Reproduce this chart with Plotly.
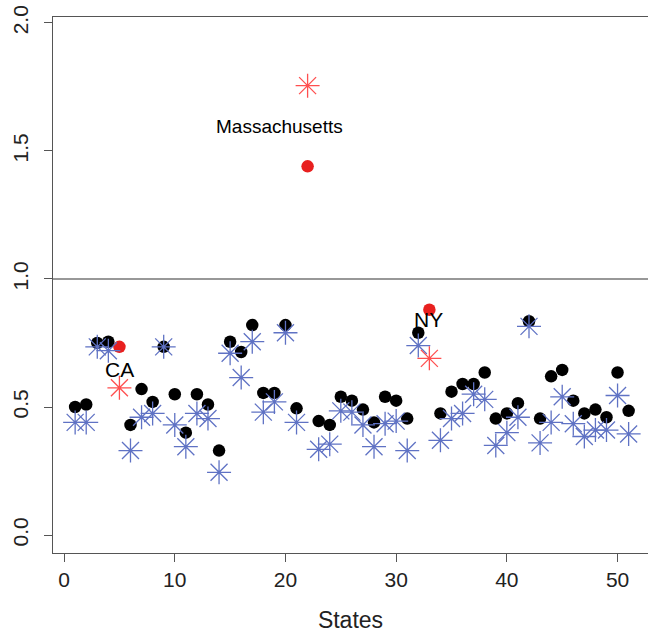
import plotly.graph_objects as go

states = list(range(1, 52))
dots = [0.50, 0.51, 0.75, 0.755, 0.735, 0.43, 0.57, 0.52, 0.735, 0.55,
        0.40, 0.55, 0.51, 0.33, 0.755, 0.715, 0.82, 0.555, 0.555, 0.82,
        0.495, 1.44, 0.445, 0.43, 0.54, 0.525, 0.49, 0.44, 0.54, 0.525,
        0.455, 0.79, 0.88, 0.475, 0.56, 0.59, 0.59, 0.635, 0.455, 0.475,
        0.515, 0.835, 0.455, 0.62, 0.645, 0.525, 0.475, 0.49, 0.46, 0.635,
        0.485]
stars = [0.44, 0.44, 0.735, 0.72, 0.575, 0.33, 0.46, 0.475, 0.735, 0.43,
         0.345, 0.475, 0.455, 0.245, 0.71, 0.615, 0.755, 0.48, 0.52, 0.79,
         0.44, 1.755, 0.335, 0.355, 0.485, 0.48, 0.43, 0.345, 0.435, 0.445,
         0.33, 0.74, 0.69, 0.37, 0.455, 0.475, 0.55, 0.53, 0.35, 0.40,
         0.46, 0.815, 0.36, 0.44, 0.54, 0.435, 0.385, 0.41, 0.41, 0.545,
         0.395]
highlight = {5: "CA", 22: "Massachusetts", 33: "NY"}
label_pos = {"CA": (5.0, 0.645), "Massachusetts": (19.5, 1.597), "NY": (32.9, 0.84)}
label_size = {"CA": 21, "Massachusetts": 19, "NY": 21}
x_ticks = [0, 10, 20, 30, 40, 50]
y_ticks = [0.0, 0.5, 1.0, 1.5, 2.0]

dot_colors = ["#e8201f" if s in highlight else "black" for s in states]
star_colors = ["#ff4f4f" if s in highlight else "#5f72c4" for s in states]

fig = go.Figure()
fig.add_trace(go.Scatter(
    x=states, y=dots, mode="markers",
    marker=dict(symbol="circle", size=12.5, color=dot_colors, line=dict(width=0)),
    showlegend=False))
fig.add_trace(go.Scatter(
    x=states, y=stars, mode="markers",
    marker=dict(symbol="asterisk-open", size=20, color=star_colors,
                line=dict(width=1.3, color=star_colors)),
    showlegend=False))

for name, (lx, ly) in label_pos.items():
    fig.add_annotation(x=lx, y=ly, text=name, showarrow=False,
                       font=dict(family="Liberation Sans, Arial", size=label_size[name],
                                 color="black"))

fig.add_hline(y=1.0, line=dict(color="#333333", width=1.2))

fig.update_layout(
    width=648, height=633,
    margin=dict(l=53, r=0, t=17, b=80),
    paper_bgcolor="white", plot_bgcolor="white",
    font=dict(family="Liberation Sans, Arial", color="#222222"),
    xaxis=dict(range=[-1, 52.75], tickvals=x_ticks, ticktext=[str(v) for v in x_ticks],
               showgrid=False, zeroline=False, showline=True, linecolor="#555555",
               linewidth=1.2, mirror=True, ticks="outside", ticklen=8, tickwidth=1,
               tickcolor="#555555", tickfont=dict(size=21),
               title=dict(text="States", font=dict(size=23), standoff=22)),
    yaxis=dict(range=[-0.07, 2.023], tickvals=y_ticks, ticktext=[f"{v:.1f}" for v in y_ticks],
               showgrid=False, zeroline=False, showline=True, linecolor="#555555",
               linewidth=1.2, ticks="outside", ticklen=8, tickwidth=1,
               tickcolor="#555555", tickangle=-90, tickfont=dict(size=21),
               ticklabelstandoff=8),
)

fig.write_html("out.html")
